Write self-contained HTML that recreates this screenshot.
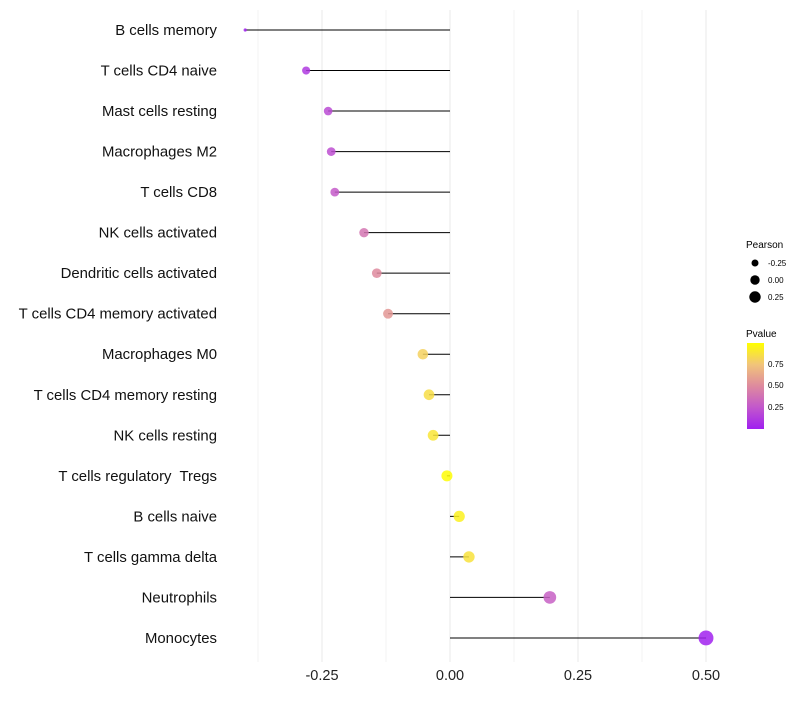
<!DOCTYPE html>
<html><head><meta charset="utf-8"><style>
body{margin:0;background:#fff;font-family:"Liberation Sans",sans-serif}
svg text{font-family:"Liberation Sans",sans-serif;white-space:pre}
</style></head><body>
<svg id="c" width="800" height="700">
<defs><linearGradient id="pg" x1="0" y1="1" x2="0" y2="0">
<stop offset="0" stop-color="#a020f0"/><stop offset="0.25" stop-color="#c257cc"/><stop offset="0.5" stop-color="#de8a9e"/><stop offset="0.75" stop-color="#f1c47a"/><stop offset="1" stop-color="#ffff00"/>
</linearGradient></defs>
<g id="grid"></g><g id="marks"></g><g id="labels"></g>
<g>
<text x="746" y="248" font-size="10">Pearson</text>
<circle cx="755" cy="263" r="3.5" fill="#000"/><text x="768" y="266" font-size="8">-0.25</text>
<circle cx="755" cy="280" r="4.7" fill="#000"/><text x="768" y="283" font-size="8">0.00</text>
<circle cx="755" cy="297" r="5.7" fill="#000"/><text x="768" y="300" font-size="8">0.25</text>
</g>
<g>
<text x="746" y="337" font-size="10">Pvalue</text>
<rect x="747" y="343" width="17" height="86" fill="url(#pg)"/>
<text x="768" y="367" font-size="8">0.75</text>
<text x="768" y="388" font-size="8">0.50</text>
<text x="768" y="410" font-size="8">0.25</text>
</g>
</svg>
<script>
const categories=["B cells memory","T cells CD4 naive","Mast cells resting","Macrophages M2","T cells CD8","NK cells activated","Dendritic cells activated","T cells CD4 memory activated","Macrophages M0","T cells CD4 memory resting","NK cells resting","T cells regulatory  Tregs","B cells naive","T cells gamma delta","Neutrophils","Monocytes"];
const pearson=[-0.400,-0.281,-0.238,-0.232,-0.225,-0.168,-0.143,-0.121,-0.053,-0.041,-0.033,-0.006,0.018,0.037,0.195,0.5];
const pvalues=[0.02,0.12,0.2,0.22,0.27,0.4,0.5,0.56,0.8,0.85,0.88,0.98,0.93,0.87,0.3,0.02];
const xTicks=[-0.25,0,0.25,0.5];
const xTickLabels=["-0.25","0.00","0.25","0.50"];
const NS="http://www.w3.org/2000/svg";
const x=v=>450+v*512;
const y=i=>30+i*40.53;
const rr=v=>v<-0.35?1.6:1.1*Math.sqrt(Math.max(2,25.3+41.4*v));
const stops=[[160,32,240],[194,87,204],[222,138,158],[241,196,122],[255,255,0]];
function col(p){const t=Math.min(1,Math.max(0,(p-0.01)/0.98))*4;const k=Math.min(3,Math.floor(t));const f=t-k;const a=stops[k],b=stops[k+1];return `rgb(${a.map((c,j)=>Math.round(c+(b[j]-c)*f)).join(',')})`;}
function mk(tag,at,parent){const e=document.createElementNS(NS,tag);for(const k in at)e.setAttribute(k,at[k]);document.getElementById(parent).appendChild(e);return e;}
for(let v=-0.375;v<=0.5;v+=0.125){const g=mk('line',{x1:x(v),x2:x(v),y1:10,y2:662,stroke:'#ebebeb','stroke-width':Math.abs(v*4-Math.round(v*4))<1e-6?1.1:0.6},'grid');

}
xTicks.forEach((v,i)=>{const t=mk('text',{x:x(v),y:680,'font-size':14.5,'text-anchor':'middle',fill:'#222'},'labels');t.textContent=xTickLabels[i];

});
categories.forEach((c,i)=>{const t=mk('text',{x:217,y:y(i)+5,'font-size':14.9,'text-anchor':'end',fill:'#111'},'labels');t.textContent=c;


const l=mk('line',{x1:x(0),x2:x(pearson[i]),y1:y(i),y2:y(i),stroke:'#000','stroke-width':1},'marks');


const p=mk('circle',{cx:x(pearson[i]),cy:y(i),r:rr(pearson[i]),fill:col(pvalues[i]),'fill-opacity':0.85},'marks');

});
</script>
</body></html>
